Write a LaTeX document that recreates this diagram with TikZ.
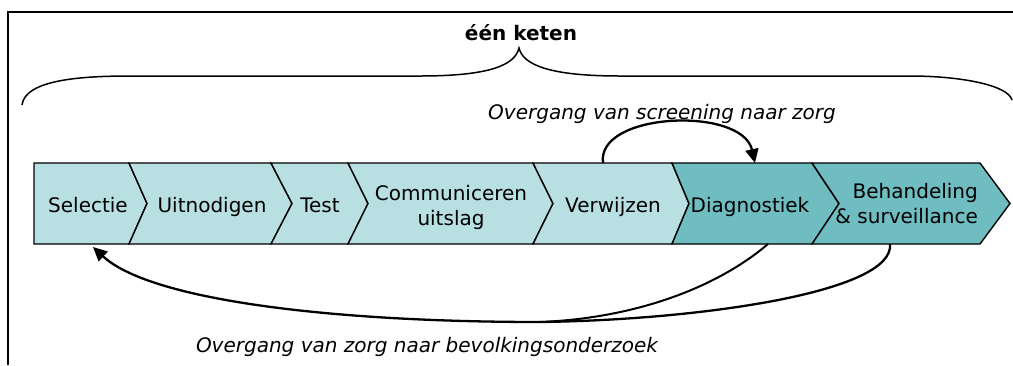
\documentclass[tikz,border=0pt]{standalone}
\usepackage{fontspec}
\setmainfont{DejaVu Sans}
\usetikzlibrary{arrows.meta}
\definecolor{lightteal}{RGB}{184,223,226}
\definecolor{darkteal}{RGB}{111,189,193}
\begin{document}
\begin{tikzpicture}[x=1pt,y=-1pt,
  chev/.style={draw=black, line width=1.4pt, line join=miter},
  lab/.style={inner sep=0pt, font=\fontsize{20}{25}\selectfont, anchor=base},
  ital/.style={inner sep=0pt, font=\fontsize{20}{25}\selectfont\itshape, anchor=base},
  conn/.style={line width=2.3pt, -{Triangle[length=14pt,width=13pt]}},
  link/.style={line width=2pt}]
\useasboundingbox (0,0) rectangle (1013,365);
\fill[white] (0,0) rectangle (1013,365);
% frame
\draw[line width=2pt] (8,365) -- (8,12) -- (1013,12);
% brace
\draw[line width=1.5pt] (22,105) .. controls (25,80) and (80,76) .. (130,76) -- (420,76)
  .. controls (490,76) and (515,65) .. (519,48)
  .. controls (523,65) and (550,76) .. (620,76) -- (910,76)
  .. controls (960,76) and (1008,85) .. (1012,100);
\node[font=\fontsize{20}{25}\selectfont\bfseries, inner sep=0pt, anchor=base] (title) at (521,40) {één keten};
% chevrons
\path[chev, fill=lightteal] (34,163) -- (129,163) -- (147,203.5) -- (129,244) -- (34,244) -- cycle;
\path[chev, fill=lightteal] (129,163) -- (271,163) -- (292,203.5) -- (271,244) -- (129,244) -- (147,203.5) -- cycle;
\path[chev, fill=lightteal] (271,163) -- (348,163) -- (368,203.5) -- (348,244) -- (271,244) -- (292,203.5) -- cycle;
\path[chev, fill=lightteal] (348,163) -- (533,163) -- (553,203.5) -- (533,244) -- (348,244) -- (368,203.5) -- cycle;
\path[chev, fill=lightteal] (533,163) -- (672,163) -- (689,203.5) -- (672,244) -- (533,244) -- (553,203.5) -- cycle;
\path[chev, fill=darkteal] (672,163) -- (812,163) -- (839,203.5) -- (812,244) -- (672,244) -- (689,203.5) -- cycle;
\path[chev, fill=darkteal] (812,163) -- (980,163) -- (1010,203.5) -- (980,244) -- (812,244) -- (839,203.5) -- cycle;
% labels
\node[lab] (sel) at (88,212) {Selectie};
\node[lab] (uit) at (212,212) {Uitnodigen};
\node[lab] (tst) at (320,212) {Test};
\node[lab, align=center] (com) at (451,225) {Communiceren\\uitslag};
\node[lab] (ver) at (613,212) {Verwijzen};
\node[lab] (dia) at (750,212) {Diagnostiek};
\node[lab, anchor=base east, align=right] (beh) at (978,223) {Behandeling\\\& surveillance};
% connector anchors
\coordinate (verTop) at (603,163);
\coordinate (diaTop) at (755,163);
\coordinate (diaBot) at (768,244);
\coordinate (behBot) at (890,244);
\coordinate (merge) at (540,322);
\coordinate (selBot) at (93,247);
% connectors
\draw[conn] (verTop) .. controls (596,112) and (742,106) .. (diaTop);
\draw[link] (diaBot) .. controls (720,285) and (640,318) .. (merge);
\draw[conn] (behBot) .. controls (895,292) and (700,320) .. (merge)
  .. controls (330,322) and (150,300) .. (selBot);
\node[ital] (lab1) at (662,119) {Overgang van screening naar zorg};
\node[ital] (lab2) at (427,352) {Overgang van zorg naar bevolkingsonderzoek};
\end{tikzpicture}
\end{document}
